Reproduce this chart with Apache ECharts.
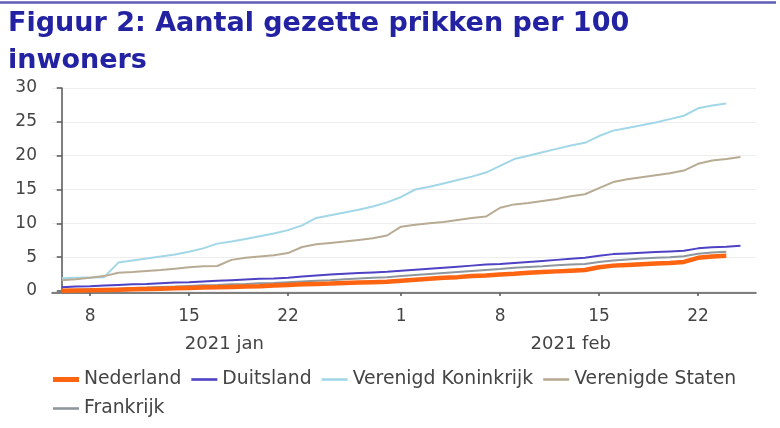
<!DOCTYPE html>
<html>
<head>
<meta charset="utf-8">
<script src="https://cdn.jsdelivr.net/npm/echarts@6/dist/echarts.min.js"></script>
<style>html,body{margin:0;padding:0;background:#fff}#c{width:780px;height:428px}</style>
</head>
<body>
<div id="c"></div>
<script>
const dates = [
  "2021-01-06","2021-01-07","2021-01-08","2021-01-09","2021-01-10","2021-01-11","2021-01-12","2021-01-13",
  "2021-01-14","2021-01-15","2021-01-16","2021-01-17","2021-01-18","2021-01-19","2021-01-20","2021-01-21",
  "2021-01-22","2021-01-23","2021-01-25","2021-01-26","2021-01-27","2021-01-28","2021-01-29","2021-01-30",
  "2021-02-01","2021-02-02","2021-02-03","2021-02-04","2021-02-05","2021-02-06","2021-02-07","2021-02-08",
  "2021-02-09","2021-02-10","2021-02-11","2021-02-12","2021-02-13","2021-02-14","2021-02-15","2021-02-16",
  "2021-02-17","2021-02-18","2021-02-19","2021-02-20","2021-02-21","2021-02-22","2021-02-23","2021-02-24",
  "2021-02-25"
];
const tickDates = ["2021-01-08","2021-01-15","2021-01-22","2021-02-01","2021-02-08","2021-02-15","2021-02-22"];
const monthKeys = ["2021-01","2021-02"];
const monthLabels = ["2021 jan","2021 feb"];

const seriesNames = ["Nederland","Duitsland","Verenigd Koninkrijk","Verenigde Staten","Frankrijk"];

const nederland = [0.05,0.08,0.1,0.15,0.2,0.25,0.3,0.35,0.4,0.45,0.5,0.55,0.6,0.65,0.7,0.8,
  0.9,1.0,1.05,1.1,1.2,1.25,1.3,1.35,1.5,1.65,1.8,1.95,2.05,2.2,2.3,2.45,
  2.55,2.7,2.8,2.9,3.0,3.1,3.5,3.75,3.85,3.95,4.05,4.15,4.3,4.9,5.1,5.2];
const duitsland = [0.55,0.65,0.7,0.8,0.9,1.0,1.05,1.15,1.25,1.3,1.4,1.5,1.6,1.7,1.8,1.85,
  1.95,2.15,2.3,2.45,2.55,2.65,2.75,2.85,3.0,3.15,3.3,3.45,3.6,3.75,3.9,4.0,
  4.15,4.3,4.45,4.6,4.75,4.9,5.2,5.45,5.55,5.65,5.75,5.85,5.95,6.3,6.45,6.55,6.7];
const verenigdKoninkrijk = [1.9,1.95,2.0,2.05,4.2,4.5,4.8,5.1,5.4,5.8,6.3,7.0,7.3,7.7,8.1,8.5,
  9.0,9.7,10.8,11.2,11.6,12.0,12.5,13.1,13.9,15.0,15.4,15.9,16.4,16.9,17.5,18.5,
  19.5,20.0,20.5,21.0,21.5,21.9,22.9,23.7,24.1,24.5,24.9,25.4,25.9,27.0,27.4,27.7];
const verenigdeStaten = [1.6,1.75,1.95,2.2,2.7,2.8,2.95,3.1,3.3,3.5,3.65,3.7,4.6,4.9,5.1,5.3,
  5.6,6.5,6.9,7.1,7.3,7.55,7.8,8.2,9.5,9.8,10.0,10.2,10.5,10.8,11.0,12.3,
  12.8,13.0,13.3,13.6,14.0,14.3,15.2,16.1,16.5,16.8,17.1,17.4,17.8,18.8,19.3,19.5,19.8];
const frankrijk = [0.15,0.2,0.25,0.3,0.35,0.45,0.5,0.6,0.65,0.75,0.85,0.9,1.0,1.05,1.15,1.2,
  1.3,1.4,1.5,1.6,1.75,1.85,1.95,2.05,2.2,2.35,2.5,2.65,2.8,2.95,3.1,3.25,
  3.45,3.55,3.65,3.8,3.9,4.0,4.3,4.5,4.65,4.8,4.9,5.0,5.15,5.5,5.7,5.8];

const tickIdx = tickDates.map(d => dates.indexOf(d));
const monthIdx = monthKeys.map(m => {
  const idx = dates.map((d,i)=>d.startsWith(m)?i:-1).filter(i=>i>=0);
  return (idx[0] + idx[idx.length-1]) / 2;
});
const toPairs = arr => arr.map((v,i)=>[i,v]);

const X_MIN = -0.69, X_MAX = 49.1;
const FONT = "DejaVu Sans";
const colors = ['#ff6410','#4e42c4','#a2d7e8','#b8ab93','#8e979d'];
const widths = [4.5,2,2,2,2];

const chart = echarts.init(document.getElementById('c'));
chart.setOption({
  backgroundColor: '#fff',
  animation: false,
  textStyle: { fontFamily: FONT },
  title: {
    text: 'Figuur 2: Aantal gezette prikken per 100\ninwoners',
    left: 3, top: 0,
    textStyle: { fontFamily: FONT, fontSize: 27, fontWeight: 'bold', color: '#2222a2', lineHeight: 37 }
  },
  graphic: [{ type: 'line', shape: { x1: 0, y1: 2.5, x2: 776, y2: 2.5 }, style: { stroke: '#5c5cb6', lineWidth: 2.5 } }],
  grid: { left: 52, right: 24, top: 88, bottom: 137 },
  xAxis: [{
    type: 'value', min: X_MIN, max: X_MAX, offset: 2,
    axisLine: { onZero: false, lineStyle: { color: '#555', width: 1.5 } },
    axisTick: { customValues: tickIdx, length: 3, lineStyle: { color: '#555', width: 1.5 } },
    axisLabel: { customValues: tickIdx, margin: 15, fontSize: 17, color: '#444',
      formatter: v => String(parseInt(dates[Math.round(v)].slice(8), 10)) },
    splitLine: { show: false }
  }, {
    type: 'value', min: X_MIN, max: X_MAX, offset: 30, position: 'bottom',
    axisLine: { show: false }, axisTick: { show: false },
    axisLabel: { customValues: monthIdx, margin: 14, fontSize: 18, color: '#444',
      formatter: v => {
        let best = 0;
        monthIdx.forEach((m,i)=>{ if (Math.abs(m - v) < Math.abs(monthIdx[best] - v)) best = i; });
        return monthLabels[best];
      } },
    splitLine: { show: false }
  }],
  yAxis: {
    type: 'value', min: 0, max: 30, interval: 5,
    axisLine: { show: true, lineStyle: { color: '#555', width: 1.5 } },
    axisTick: { show: true, length: 5, lineStyle: { color: '#555', width: 1.5 } },
    axisLabel: { margin: 15, fontSize: 17, color: '#444' },
    splitLine: { lineStyle: { color: '#eeeeee', width: 1 } }
  },
  legend: {
    left: 48, top: 365, width: 715,
    itemWidth: 26, itemHeight: 12, itemGap: 10,
    textStyle: { fontFamily: FONT, fontSize: 18.8, color: '#444', lineHeight: 19 },
    data: seriesNames.map((n,i) => ({ name: n, icon: i === 0 ? 'path://M0 0H26V5H0Z' : 'path://M0 0H26V2.6H0Z' }))
  },
  series: seriesNames.map((n,i) => ({
    name: n, type: 'line', showSymbol: false, symbol: 'none',
    data: toPairs([nederland, duitsland, verenigdKoninkrijk, verenigdeStaten, frankrijk][i]),
    lineStyle: { color: colors[i], width: widths[i] }, itemStyle: { color: colors[i] },
    z: i === 0 ? 5 : (i === 1 ? 4 : 3)
  }))
});
</script>
</body>
</html>
